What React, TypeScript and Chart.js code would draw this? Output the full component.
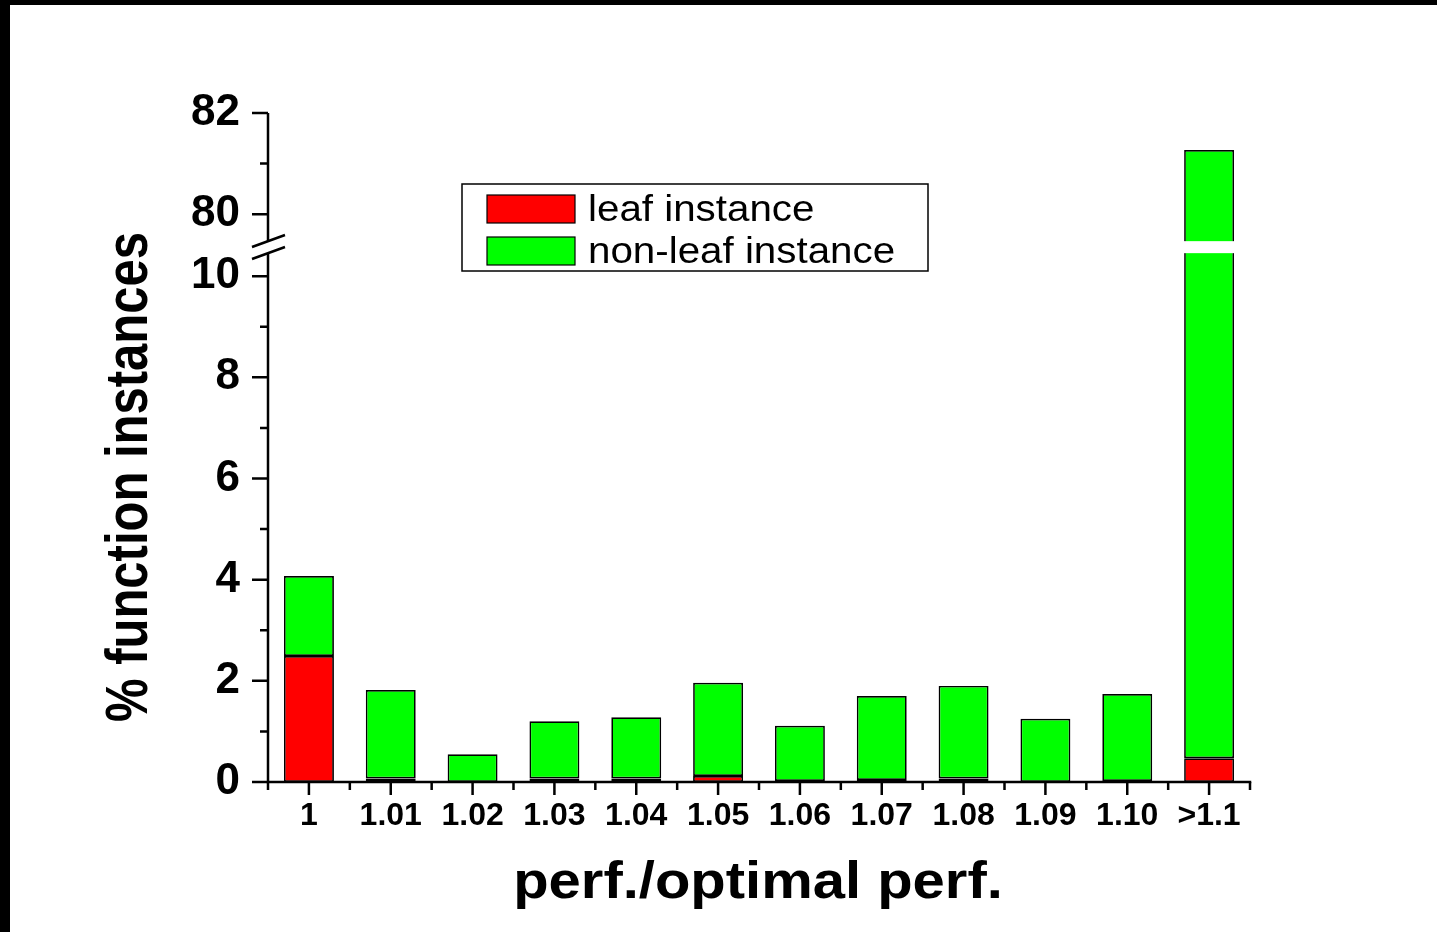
import React, { useEffect, useRef } from 'react';
import { Chart, registerables } from 'chart.js';

Chart.register(...registerables);

const categories = ['1', '1.01', '1.02', '1.03', '1.04', '1.05', '1.06', '1.07', '1.08', '1.09', '1.10', '>1.1'];
const leafValues = [2.49, 0.07, 0, 0.07, 0.07, 0.12, 0.02, 0.04, 0.07, 0, 0.02, 0.47];
const nonLeafValues = [1.58, 1.75, 0.55, 1.13, 1.21, 1.84, 1.09, 1.66, 1.83, 1.25, 1.72, 80.8];
const yTickValues = [0, 2, 4, 6, 8, 10, 80, 82];
const yMinorTickValues = [1, 3, 5, 7, 9, 81];
const legendLabels = ['leaf instance', 'non-leaf instance'];

const BREAK_LOW = 10;
const BREAK_HIGH = 80;
const Y_MAX = 82;
const BREAK_GAP = 1.225;

const toAxis = (v: number) => (v <= BREAK_LOW ? v : v - BREAK_HIGH + BREAK_LOW + BREAK_GAP);

const FONT = '"Liberation Sans", Arial, Helvetica, sans-serif';
const RED = '#ff0000';
const GREEN = '#00ff00';

export default function App() {
  const ref = useRef<HTMLCanvasElement | null>(null);

  useEffect(() => {
    if (!ref.current) return;

    const decor = {
      id: 'decor',
      afterDraw(chart: any) {
        const ctx = chart.ctx as CanvasRenderingContext2D;
        const { left, right, top, bottom } = chart.chartArea;
        const ys = chart.scales.y;
        const xs = chart.scales.x;
        ctx.save();
        // page frame bands
        ctx.fillStyle = '#000';
        ctx.fillRect(0, 0, chart.width, 5);
        ctx.fillRect(0, 0, 10, chart.height);

        const yc = ys.getPixelForValue((BREAK_LOW + toAxis(BREAK_HIGH)) / 2) + 2;
        const half = 6;

        // white gap in broken bars
        const meta = chart.getDatasetMeta(1);
        meta.data.forEach((bar: any, i: number) => {
          if (leafValues[i] + nonLeafValues[i] > BREAK_LOW) {
            const w = bar.width;
            ctx.fillStyle = '#fff';
            ctx.fillRect(bar.x - w / 2 - 2, yc - half, w + 4, half * 2);
          }
        });

        ctx.strokeStyle = '#000';
        ctx.lineWidth = 2.5;
        ctx.lineCap = 'butt';
        // y axis line with break
        ctx.beginPath();
        ctx.moveTo(left, top);
        ctx.lineTo(left, yc - half);
        ctx.moveTo(left, yc + half);
        ctx.lineTo(left, bottom + 1.25);
        // x axis line
        ctx.moveTo(left - 1.25, bottom);
        ctx.lineTo(right + 1.25, bottom);
        ctx.stroke();

        // y ticks
        ctx.beginPath();
        yTickValues.forEach((v) => {
          const y = ys.getPixelForValue(toAxis(v));
          ctx.moveTo(left - 16, y);
          ctx.lineTo(left, y);
        });
        yMinorTickValues.forEach((v) => {
          const y = ys.getPixelForValue(toAxis(v));
          ctx.moveTo(left - 8, y);
          ctx.lineTo(left, y);
        });
        // x ticks
        categories.forEach((_, i) => {
          const x = xs.getPixelForValue(i);
          ctx.moveTo(x, bottom);
          ctx.lineTo(x, bottom + 13);
        });
        for (let i = 0; i <= categories.length; i++) {
          const x = left + ((right - left) * i) / categories.length;
          ctx.moveTo(x, bottom);
          ctx.lineTo(x, bottom + 8);
        }
        ctx.stroke();

        // break slashes
        ctx.lineWidth = 2.5;
        ctx.beginPath();
        [-half, half].forEach((d) => {
          ctx.moveTo(left - 16, yc + d + 5.8);
          ctx.lineTo(left + 17, yc + d - 6.2);
        });
        ctx.stroke();

        // legend
        ctx.lineWidth = 1.5;
        ctx.fillStyle = '#fff';
        ctx.fillRect(462, 184, 466, 87);
        ctx.strokeRect(462, 184, 466, 87);
        const sw = [RED, GREEN];
        const sy = [195, 237];
        ctx.font = `36px ${FONT}`;
        ctx.textBaseline = 'middle';
        ctx.textAlign = 'left';
        legendLabels.forEach((label, i) => {
          ctx.fillStyle = sw[i];
          ctx.fillRect(487, sy[i], 88, 28);
          ctx.lineWidth = 1.2;
          ctx.strokeRect(487, sy[i], 88, 28);
          ctx.fillStyle = '#000';
          ctx.save();
          ctx.translate(588, sy[i] + 16);
          ctx.scale(1.12, 1);
          ctx.fillText(label, 0, 0);
          ctx.restore();
        });

        // axis titles
        ctx.fillStyle = '#000';
        ctx.textAlign = 'center';
        ctx.textBaseline = 'middle';
        ctx.save();
        ctx.translate(758, 884);
        ctx.scale(1.115, 1);
        ctx.font = `bold 52px ${FONT}`;
        ctx.fillText('perf./optimal perf.', 0, 0);
        ctx.restore();
        ctx.save();
        ctx.translate(131, 477);
        ctx.rotate(-Math.PI / 2);
        ctx.scale(1, 1.2);
        ctx.font = `bold 49px ${FONT}`;
        ctx.fillText('% function instances', 0, 0);
        ctx.restore();

        ctx.restore();
      },
    };

    const chart = new Chart(ref.current, {
      type: 'bar',
      data: {
        labels: categories,
        datasets: [
          {
            label: legendLabels[0],
            data: leafValues,
            backgroundColor: RED,
            borderColor: '#000',
            borderWidth: 1.7,
            borderSkipped: false,
            stack: 's',
            categoryPercentage: 1,
            barPercentage: 0.61,
          },
          {
            label: legendLabels[1],
            data: nonLeafValues.map((v, i) => toAxis(leafValues[i] + v) - leafValues[i]),
            backgroundColor: GREEN,
            borderColor: '#000',
            borderWidth: 1.7,
            borderSkipped: false,
            stack: 's',
            categoryPercentage: 1,
            barPercentage: 0.61,
          },
        ],
      },
      options: {
        animation: false,
        responsive: false,
        devicePixelRatio: 1,
        layout: { padding: { left: 0, right: 187, top: 113, bottom: 0 } },
        plugins: {
          legend: { display: false },
          tooltip: { enabled: false },
          title: { display: false },
        },
        scales: {
          x: {
            type: 'category',
            stacked: true,
            offset: true,
            grid: { display: false },
            border: { display: false },
            ticks: {
              color: '#000',
              font: { family: FONT, size: 32, weight: 'bold' },
              padding: 7,
              maxRotation: 0,
              autoSkip: false,
            },
            afterFit: (scale: any) => {
              scale.height = 150;
            },
          },
          y: {
            type: 'linear',
            stacked: true,
            min: 0,
            max: toAxis(Y_MAX),
            grid: { display: false },
            border: { display: false },
            afterBuildTicks: (scale: any) => {
              scale.ticks = yTickValues.map((v) => ({ value: toAxis(v) }));
            },
            ticks: {
              color: '#000',
              font: { family: FONT, size: 44, weight: 'bold' },
              padding: 20,
              callback: (_v: any, index: number) => String(yTickValues[index]),
            },
            afterFit: (scale: any) => {
              scale.width = 268;
            },
          },
        },
      },
      plugins: [decor],
    });

    return () => chart.destroy();
  }, []);

  return (
    <div style={{ position: 'absolute', left: 0, top: 0, width: 1437, height: 932, background: '#fff' }}>
      <canvas ref={ref} width={1437} height={932} style={{ display: 'block', width: 1437, height: 932 }} />
    </div>
  );
}
